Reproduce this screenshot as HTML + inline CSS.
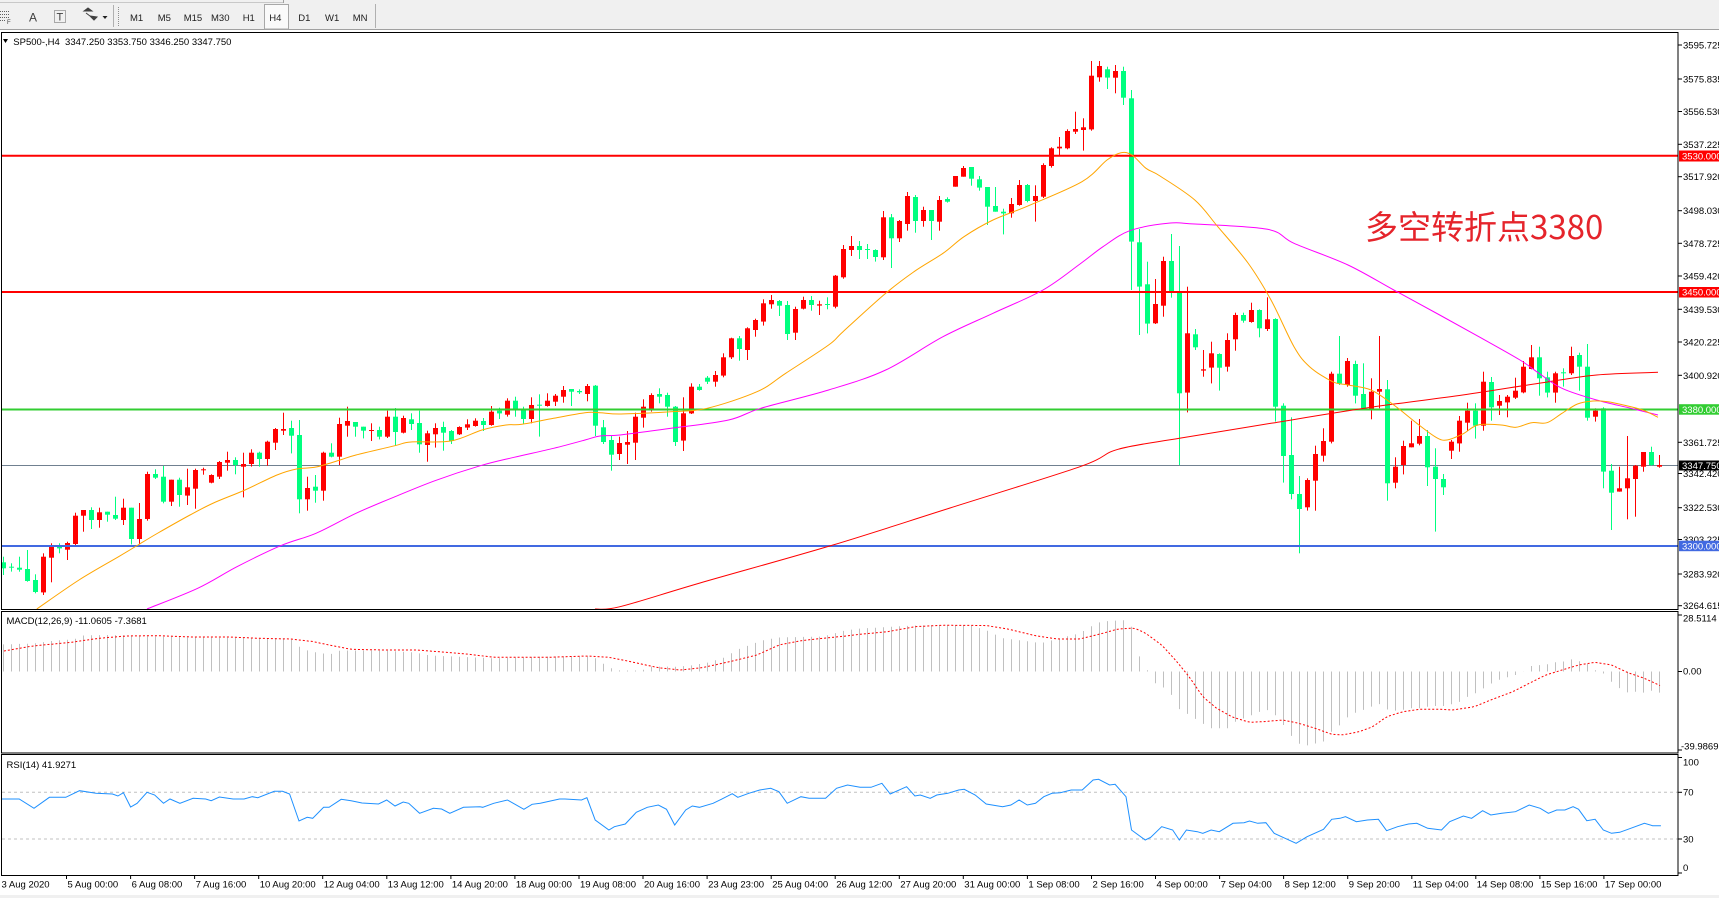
<!DOCTYPE html>
<html><head><meta charset="utf-8">
<style>
html,body{margin:0;padding:0;background:#fff;width:1719px;height:898px;overflow:hidden}
svg{display:block}
text{font-family:"Liberation Sans","Noto Sans CJK SC",sans-serif;font-size:9.5px;fill:#000}
.tb{font-size:9.5px;fill:#202020}
.ax{font-size:9.5px}
.wl{font-size:9.5px;fill:#fff}
</style></head><body>
<svg id="s" xmlns="http://www.w3.org/2000/svg" width="1719" height="898" viewBox="0 0 1719 898">
<defs>
<clipPath id="cm"><rect x="2" y="34" width="1676" height="575"/></clipPath>
<clipPath id="cd"><rect x="2" y="612" width="1676" height="140"/></clipPath>
<clipPath id="cr"><rect x="2" y="755" width="1676" height="120"/></clipPath>
</defs>
<rect x="0" y="0" width="1719" height="898" fill="#fff"/>
<!-- toolbar -->
<rect x="0" y="0" width="1719" height="30" fill="#F0F0F0"/>
<line x1="0" y1="2.5" x2="283" y2="2.5" stroke="#C8C8C8"/>
<line x1="283.5" y1="0" x2="283.5" y2="3" stroke="#A0A0A0"/>
<line x1="0" y1="29.5" x2="1719" y2="29.5" stroke="#A0A0A0"/>
<rect x="0" y="30" width="1719" height="2" fill="#fff"/>
<g stroke="#606060" stroke-dasharray="1,1">
<line x1="0" y1="11.5" x2="10" y2="11.5"/><line x1="0" y1="14.5" x2="10" y2="14.5"/><line x1="0" y1="17.5" x2="10" y2="17.5"/><line x1="0" y1="20.5" x2="6" y2="20.5"/>
</g>
<text x="7" y="24" style="font-size:6px;fill:#404040">F</text>
<text x="29" y="21.5" style="font-size:12px;fill:#404040">A</text>
<rect x="54.5" y="10.5" width="11" height="12" fill="none" stroke="#606060" stroke-dasharray="1,1"/>
<text x="56.5" y="20.5" style="font-size:11px;fill:#404040">T</text>
<path d="M84 11 L88 8 L92 11 Z M86 13 L90 16 M90 16 L94 20 L97 17 Z" fill="#404040" stroke="#404040"/>
<path d="M102.5 16 L107.5 16 L105 19 Z" fill="#202020"/>
<line x1="113.5" y1="5" x2="113.5" y2="27" stroke="#B0B0B0"/>
<line x1="118.5" y1="7" x2="118.5" y2="26" stroke="#909090" stroke-dasharray="1,1"/>
<rect x="264.5" y="4.5" width="24" height="24.5" fill="#FAFAFA" stroke="#A8A8A8"/>
<text class="tb" x="130" y="21">M1</text>
<text class="tb" x="157.7" y="21">M5</text>
<text class="tb" x="183.7" y="21">M15</text>
<text class="tb" x="211" y="21">M30</text>
<text class="tb" x="242.7" y="21">H1</text>
<text class="tb" x="269.3" y="21">H4</text>
<text class="tb" x="298.3" y="21">D1</text>
<text class="tb" x="325" y="21">W1</text>
<text class="tb" x="352.7" y="21">MN</text>
<line x1="375.5" y1="4" x2="375.5" y2="28" stroke="#B0B0B0"/>
<!-- bottom strip -->
<rect x="0" y="895" width="1719" height="3" fill="#F0F0F0"/>

<line x1="2" y1="465.5" x2="1678" y2="465.5" stroke="#708090" stroke-width="1"/>
<g id="dyn"></g>
<g clip-path="url(#cm)">
<line x1="2" y1="155.7" x2="1678" y2="155.7" stroke="#FF0000" stroke-width="2"/>
<line x1="2" y1="292" x2="1678" y2="292" stroke="#FF0000" stroke-width="2"/>
<line x1="2" y1="409.5" x2="1678" y2="409.5" stroke="#32CD32" stroke-width="2"/>
<line x1="2" y1="546" x2="1678" y2="546" stroke="#4169E1" stroke-width="2"/>
</g>
<g id="dyn2"></g>

<!-- frames -->
<g fill="none" stroke="#000" stroke-width="1">
<rect x="1.5" y="32.5" width="1676.5" height="577"/>
<rect x="1.5" y="611.5" width="1676.5" height="141.5"/>
<rect x="1.5" y="754.5" width="1676.5" height="121"/>
</g>

<!-- header -->
<path d="M3 39 L8 39 L5.5 43 Z" fill="#000"/>
<text x="13.3" y="45" style="white-space:pre">SP500-,H4  3347.250 3353.750 3346.250 3347.750</text>
<text x="6.5" y="624">MACD(12,26,9) -11.0605 -7.3681</text>
<text x="6.5" y="768">RSI(14) 41.9271</text>

<text x="1365" y="239" style="font-family:'Noto Sans CJK SC','WenQuanYi Zen Hei',sans-serif;font-size:33px;fill:#E5242B">多空转折点3380</text>

<!-- price axis -->
<g stroke="#000">
<line x1="1678" y1="45" x2="1682" y2="45"/><line x1="1678" y1="79" x2="1682" y2="79"/>
<line x1="1678" y1="111.5" x2="1682" y2="111.5"/><line x1="1678" y1="144.3" x2="1682" y2="144.3"/>
<line x1="1678" y1="176.7" x2="1682" y2="176.7"/><line x1="1678" y1="210.7" x2="1682" y2="210.7"/>
<line x1="1678" y1="243.3" x2="1682" y2="243.3"/><line x1="1678" y1="276" x2="1682" y2="276"/>
<line x1="1678" y1="309.3" x2="1682" y2="309.3"/><line x1="1678" y1="342" x2="1682" y2="342"/>
<line x1="1678" y1="375.3" x2="1682" y2="375.3"/><line x1="1678" y1="442.3" x2="1682" y2="442.3"/>
<line x1="1678" y1="473.5" x2="1682" y2="473.5"/><line x1="1678" y1="507.7" x2="1682" y2="507.7"/>
<line x1="1678" y1="539.5" x2="1682" y2="539.5"/><line x1="1678" y1="574" x2="1682" y2="574"/>
<line x1="1678" y1="605.7" x2="1682" y2="605.7"/>
<line x1="1678" y1="615" x2="1682" y2="615"/><line x1="1678" y1="671.5" x2="1682" y2="671.5"/><line x1="1678" y1="750" x2="1682" y2="750"/>
<line x1="1678" y1="757.5" x2="1682" y2="757.5"/><line x1="1678" y1="792.3" x2="1682" y2="792.3"/><line x1="1678" y1="839" x2="1682" y2="839"/><line x1="1678" y1="873" x2="1682" y2="873"/>
</g>
<g class="ax">
<text x="1683" y="48.5">3595.725</text>
<text x="1683" y="82.5">3575.835</text>
<text x="1683" y="115">3556.530</text>
<text x="1683" y="148">3537.225</text>
<text x="1683" y="180">3517.920</text>
<text x="1683" y="214">3498.030</text>
<text x="1683" y="247">3478.725</text>
<text x="1683" y="279.5">3459.420</text>
<text x="1683" y="313">3439.530</text>
<text x="1683" y="345.5">3420.225</text>
<text x="1683" y="379">3400.920</text>
<text x="1683" y="446">3361.725</text>
<text x="1683" y="477">3342.420</text>
<text x="1683" y="511">3322.530</text>
<text x="1683" y="543">3303.225</text>
<text x="1683" y="577.5">3283.920</text>
<text x="1683" y="609">3264.615</text>
<text x="1683" y="621.5">28.5114</text>
<text x="1683" y="674.5">0.00</text>
<text x="1681" y="749.5">-39.9869</text>
<text x="1683" y="765.5">100</text>
<text x="1683" y="795.5">70</text>
<text x="1683" y="842.5">30</text>
<text x="1683" y="871">0</text>
</g>
<rect x="1679" y="150.5" width="40" height="11" fill="#FF0000"/>
<text class="wl" x="1682" y="159.3">3530.000</text>
<rect x="1679" y="287" width="40" height="10.5" fill="#FF0000"/>
<text class="wl" x="1682" y="295.5">3450.000</text>
<rect x="1679" y="404.2" width="40" height="10.5" fill="#32CD32"/>
<text class="wl" x="1682" y="412.8">3380.000</text>
<rect x="1679" y="460.5" width="40" height="10" fill="#000"/>
<text class="wl" x="1682" y="469">3347.750</text>
<rect x="1679" y="540.7" width="40" height="10.5" fill="#4169E1"/>
<text class="wl" x="1682" y="549.3">3300.000</text>

<g id="dates"></g>
</svg>
<script>
(function(){
function interp(p,x){if(x<=p[0][0])return p[0][1];for(var k=1;k<p.length;k++){if(x<=p[k][0]){var a=p[k-1],b=p[k];return a[1]+(b[1]-a[1])*(x-a[0])/(b[0]-a[0]);}}return p[p.length-1][1];}
var A=[['g',547,565,530,585],['g',560,562,550,575],['g',563,569,530,575],['g',567,603,510,605],['g',600,636,583,640],['r',530,637,520,645],['r',500,533,490,607],['g',500,505,490,520],['r',489,509,485,540],['r',407,492,398,500],['r',390,407,390,455],['g',390,420,382,447],['r',397,420,383,443],['g',395,404,395,425],['g',405,416,350,420],['r',383,420,356,435],['g',383,477,383,493],['r',417,477,369,493],['r',282,417,275,422],['g',282,293,268,297],['g',290,365,258,370],['r',299,365,299,378],['g',299,345,293,380],['r',322,347,266,375],['r',270,326,266,386],['r',268,270,263,284],['r',285,308,283,310],['r',246,290,243,297],['r',240,248,215,272],['g',240,255,232,283],['r',252,260,218,352],['r',218,252,208,260],['g',218,237,215,260],['r',185,237,182,257],['r',147,188,144,210],['r',147,152,98,165],['g',144,167,122,220],['g',165,358,120,400],['r',324,358,290,392],['g',320,332,285,368],['r',218,332,215,362],['g',218,230,190,232],['r',132,230,113,255],['r',123,137,80,170],['g',126,140,126,170],['g',140,152,140,175],['r',150,152,130,183],['g',150,170,140,178],['r',110,170,92,174],['g',110,156,84,198],['r',114,158,107,160],['g',118,132,100,150],['g',129,193,92,218],['r',160,195,152,245],['r',144,163,130,203],['g',141,158,125,212],['g',153,183,150,192],['r',141,163,139,165],['r',133,143,118,150],['r',122,138,115,140],['g',123,135,114,153],['r',95,135,78,137],['g',92,100,83,117],['r',62,104,55,110],['g',62,86,50,110],['g',88,117,80,133],['r',75,117,52,130],['g',74,76,43,170],['r',62,78,40,80],['r',47,65,42,78],['r',30,50,18,68],['g',27,35,27,78],['g',33,37,28,42],['r',18,42,12,64],['g',17,137,15,168]];
var R=[['g',427.3,442,420,444],['g',440,454.7,436,470.7],['r',443,454,436.7,460],['r',442,444.7,431,464]];
var B=[['r',1130,1208,1118,1260],['r',1100,1133,1078,1163],['r',1065,1110,1060,1115],['g',1062,1070,1045,1090],['g',1065,1100,1058,1130],['g',1100,1206,1098,1218],['r',1120,1202,1072,1233],['r',1040,1120,1030,1122],['g',1040,1050,1032,1052],['g',1013,1025,1008,1032],['r',1005,1025,993,1040],['r',952,1007,940,1012],['r',895,952,893,957],['g',895,927,888,962],['r',865,930,862,960],['r',840,870,836,890],['r',790,845,778,857],['r',780,793,765,806],['g',783,797,780,828],['g',795,882,783,900],['r',807,878,800,900],['r',780,806,770,808],['g',780,795,768,812],['r',793,797,782,825],['g',792,794,772,808],['r',707,800,705,805],['r',627,712,615,716],['r',618,630,588,648],['g',618,630,603,657],['g',627,630,612,657],['g',630,651,628,665],['r',532,652,513,660],['g',532,595,522,684],['r',543,595,540,606],['r',468,552,456,572],['g',471,543,465,578],['r',510,543,500,560],['g',510,543,510,600],['r',480,545,468,572],['g',477,485,472,488],['r',408,440,408,440],['r',384,410,378,410],['g',381,416,381,437],['g',418,443,408,452],['g',441,500,441,555],['g',498,515,441,515],['g',515,520,506,583],['r',492,520,474,533],['r',435,495,420,497],['g',435,483,432,487],['r',468,483,436,545],['r',375,470,370,474],['r',325,378,322,383],['r',320,325,291,345],['r',273,325,268,328],['r',267,275,215,282],['r',262,270,235,332],['r',107,268,63,272],['r',78,112,63,125],['g',88,113,80,147],['r',93,113,75,160],['g',93,173,80,195],['g',175,605,150,750],['g',607,740,567,885],['g',733,851,665,880],['r',792,850,717,852]];
var C=[['r',183,317,170,350],['g',183,273,102,293],['g',273,580,138,795],['r',400,578,260,637],['g',403,442,387,450],['r',508,512,450,530],['r',460,503,425,550],['g',462,503,460,572],['r',420,500,400,515],['r',345,418,338,452],['g',345,362,338,368],['r',330,366,308,368],['g',330,385,328,412],['r',358,387,292,393],['g',357,620,355,665],['g',617,768,610,848],['g',765,882,652,898],['g',882,927,828,1060],['r',840,922,835,932],['r',762,842,737,932],['r',723,767,685,785],['r',521,725,515,730],['g',521,550,408,555],['r',483,555,474,560],['g',492,587,482,610],['g',582,625,490,625],['r',575,627,535,658],['r',567,575,408,625],['g',568,850,540,902],['r',800,848,772,865],['r',738,795,722,823],['r',730,742,662,742],['r',708,731,657,736],['g',708,802,690,858],['g',800,837,745,995],['g',837,862,822,885],['r',725,752,720,777],['r',662,730,648,755],['r',632,668,608,693],['g',632,677,610,716],['r',545,677,515,692],['g',546,622,531,662],['r',603,617,585,645],['r',590,607,585,652],['r',572,593,533,597],['r',500,577,483,580],['r',472,507,435,508],['g',472,535,440,587],['g',532,578,515,592],['r',520,578,515,608],['g',517,519,505,560],['r',468,520,440,525],['g',465,500,458,572],['g',500,653,432,662],['r',632,650,625,665],['g',625,815,622,865],['g',812,878,792,990],['r',865,875,800,875],['r',835,865,708,958],['r',797,837,795,950],['r',756,800,756,815],['g',756,795,740,797],['r',795,800,765,803]];
var bars=[];
function add(arr,off){for(var i=0;i<arr.length;i++){var d=arr[i];bars.push([d[0],off+d[1]/3,off+d[2]/3,off+d[3]/3,off+d[4]/3]);}}
add(A,380);
for(var i=0;i<R.length;i++)bars.push(R[i]);
add(B,40);add(C,200);
var GC='#00FF7F',RC='#FF0000';
var c='<g clip-path="url(#cm)">';
for(var i=0;i<bars.length;i++){var b=bars[i],x=3+8*i,col=b[0]=='g'?GC:RC;
 c+='<rect x="'+x+'" y="'+b[3].toFixed(1)+'" width="1" height="'+Math.max(1,b[4]-b[3]).toFixed(1)+'" fill="'+col+'"/>';
 c+='<rect x="'+(x-2)+'" y="'+b[1].toFixed(1)+'" width="5" height="'+Math.max(1,b[2]-b[1]).toFixed(1)+'" fill="'+col+'"/>';}
c+='</g>';
document.getElementById('dyn').innerHTML=c;
function pl(p,col,extra){var s='';for(var i=0;i<p.length;i++)s+=p[i][0].toFixed(1)+','+p[i][1].toFixed(1)+' ';return '<polyline points="'+s+'" fill="none" stroke="'+col+'" stroke-width="1" '+(extra||'')+'/>';}
function smooth(p,col){var d='M'+p[0][0].toFixed(1)+','+p[0][1].toFixed(1);for(var i=0;i<p.length-1;i++){var p0=p[i-1]||p[i],p1=p[i],p2=p[i+1],p3=p[i+2]||p2;var c1x=p1[0]+(p2[0]-p0[0])/6,c1y=p1[1]+(p2[1]-p0[1])/6,c2x=p2[0]-(p3[0]-p1[0])/6,c2y=p2[1]-(p3[1]-p1[1])/6;d+=' C'+c1x.toFixed(1)+','+c1y.toFixed(1)+' '+c2x.toFixed(1)+','+c2y.toFixed(1)+' '+p2[0].toFixed(1)+','+p2[1].toFixed(1);}return '<path d="'+d+'" fill="none" stroke="'+col+'" stroke-width="1"/>';}
var OR=[[36.8,609],[79,580],[118.6,556.7],[138,545],[158,533],[190,515],[213.5,503],[245,490],[277,475],[296.6,469],[316,467],[340,460],[356,455],[395,445.7],[411,442],[451,441],[482,430],[506,425],[522,424.3],[553.6,418.3],[585,412.7],[600,412.7],[621,414],[671,411.7],[707,408.3],[757,391.7],[785.7,373.3],[828.6,345],[843,331.7],[885.7,293.3],[914,271.7],[943,253.3],[964,236.7],[993,220],[1028.6,205.7],[1082,181.7],[1107,160],[1121,152.7],[1132,155],[1146,168.3],[1160,176],[1194.8,200],[1217.8,226.7],[1248,263],[1271,300],[1294,346.7],[1309.6,366.7],[1332.6,381.7],[1348,385],[1371,390],[1393.8,405],[1416.8,423.3],[1436,437.3],[1447,440],[1462.7,434],[1478,425],[1501,425],[1516,427.3],[1531.6,422.7],[1547,422.7],[1562,413.3],[1577.5,404],[1593,401],[1608,401.7],[1623.4,405],[1642.6,410],[1658,417.3]];
var MG=[[147,609],[197.7,588.3],[237,566.7],[280.7,545.7],[316,533.3],[356,513.3],[395,496.7],[435,480.7],[480.4,465.7],[514,457.3],[553.6,448.3],[585,440],[600,436],[620,435],[671,428.3],[728.6,420],[760.7,408.3],[828.6,390],[885.7,370],[943,336.7],[993,313.3],[1043,290],[1080,264],[1103,246.7],[1129.8,230.7],[1168,223.3],[1194.8,224],[1267.5,229.3],[1294,243.3],[1348,265],[1393.8,290],[1439.7,315],[1481.8,338.3],[1520,360],[1539,373.3],[1562,388.3],[1596.6,400],[1631,408.3],[1658,415]];
var RD=[[595,609],[620,606.7],[700,583],[833,545],[950,508],[1080,466.7],[1118,449.3],[1179.5,438.3],[1271,423.3],[1371,407.3],[1462.7,395],[1539,383.3],[1596.6,375],[1658,372.3]];
var d2='<g clip-path="url(#cm)">'+smooth(RD,'#FF0000')+smooth(MG,'#FF00FF')+smooth(OR,'#FFA500')+'</g>';
var H=[[0,13.5],[33,14],[55,15.5],[74,16],[82,18],[110,18.3],[160,17.5],[200,17],[290,16.5],[299,12.5],[310,10],[330,8.5],[340,10.5],[385,10.5],[415,9.5],[430,8],[494,6.6],[550,7.5],[593,7.5],[603,4],[612,1.5],[620,0.5],[642,0.5],[650,2.5],[675,2.4],[691,3],[708,4.5],[724,7],[738,11],[754,14],[762,15.5],[779,17],[823,17.5],[845,20.5],[860,21.5],[914.9,23],[942.3,23.2],[969.7,23.2],[986.2,20.7],[1002.6,16.7],[1041,14.2],[1068.4,17.7],[1079.4,19],[1090.4,22.4],[1101.4,25],[1123.3,25.7],[1131.5,22.4],[1138.7,8.25],[1154.6,-5.6],[1162.8,-7.7],[1171,-11.2],[1178.2,-18.4],[1186.9,-21],[1194.6,-23.4],[1202.8,-26],[1211.1,-28.4],[1227.5,-28.4],[1235.8,-25],[1244,-23.4],[1252.2,-21.75],[1260.4,-20],[1268.7,-19.2],[1275.3,-21.75],[1282.4,-26],[1290.6,-31.75],[1298.8,-36],[1307.1,-37],[1315.3,-36],[1323.5,-35],[1331.7,-30],[1340,-26.75],[1348.2,-22.6],[1356.4,-20.4],[1363.6,-19.2],[1371.3,-17.6],[1378.4,-15.9],[1386.6,-18.9],[1394.8,-19.6],[1403,-19.2],[1411.3,-18.4],[1419.5,-18.4],[1427.7,-17.6],[1436,-17.25],[1444.2,-17.25],[1452.4,-16.25],[1460.7,-15],[1467.8,-12.6],[1475.5,-10.9],[1483.7,-8.4],[1491.9,-5.9],[1499,-4.25],[1507.3,-2.9],[1515.5,-1.75],[1523.7,0],[1532,2.9],[1540.2,3.25],[1547.3,3.6],[1555.6,4.6],[1563.8,5],[1572,6.1],[1580.2,5],[1587.9,3.8],[1595,0.75],[1603.3,-0.9],[1611.5,-5.1],[1619.7,-8.4],[1628,-10.6],[1636.2,-10.1],[1644.4,-10.6],[1651.5,-9.6],[1659.8,-10.6]];
var SG=[[0,9.9],[32.9,12.75],[71.3,14.6],[98.7,16.6],[126.2,17.75],[159,17.9],[192,17.25],[230.4,17.25],[257.8,16.6],[290.7,16.25],[312.7,15],[329.1,13.25],[351,11.1],[384,10.75],[417,10.75],[438.8,9.9],[466.3,8.75],[493.7,7.1],[548.5,7.1],[587,7.75],[608.9,7.1],[630.8,4.9],[658.3,1.9],[680.2,0.75],[702.1,1.9],[729.6,4.9],[757,8.25],[778.9,13.25],[800.9,15.4],[822.8,16.6],[839.3,17.4],[860,18.6],[887.4,19.9],[914.9,22.4],[942.3,23.1],[986.2,23],[1008.1,21.2],[1035.5,17.9],[1057.5,16.25],[1079.4,16.25],[1101.4,18.9],[1117.8,21.25],[1134.3,21.75],[1145.2,19.25],[1161.7,13.25],[1175.4,5.75],[1189.1,-2.6],[1202.8,-12.6],[1216.6,-18.4],[1233,-22.9],[1249.5,-25.4],[1265.9,-25],[1282.4,-24.25],[1298.8,-25.9],[1315.3,-28.4],[1331.7,-31.4],[1342.7,-31.75],[1359.2,-30.1],[1372.9,-27.6],[1386.6,-22.6],[1403,-20.1],[1419.5,-18.9],[1441.5,-18.9],[1452.4,-19.25],[1474.4,-17.6],[1490.8,-14.25],[1512.8,-10.1],[1529.2,-5.9],[1545.7,-1.75],[1562.1,0.75],[1578.6,3.25],[1595,4.6],[1611.5,3.25],[1628,-0.6],[1644.4,-3.4],[1660.9,-7.25]];
var Z=671.5,K=2.0;
d2+='<g clip-path="url(#cd)">';
for(var i=0;i<208;i++){var x=3+8*i+0.5,v=interp(H,x);var y=Z-v*K;d2+='<line x1="'+x+'" y1="'+Z+'" x2="'+x+'" y2="'+y.toFixed(1)+'" stroke="#C0C0C0" stroke-width="1"/>';}
var sp=[];for(var x=0;x<=1660;x+=4){sp.push([x,Z-interp(SG,x)*K]);}
d2+=pl(sp,'#FF0000','stroke-dasharray="2,2"');
d2+='</g>';
var R10=[[0,597],[35,597],[62,625],[90,592],[120,592],[145,572],[175,580],[205,582],[215,588],[225,578],[238,621],[250,610],[268,577],[282,585],[298,610],[310,597],[328,610],[352,595],[375,597],[385,602],[400,591],[425,597],[445,597],[460,590],[470,593],[500,574],[515,574],[528,582],[545,663],[560,652],[570,655],[590,622],[600,622],[622,598],[640,602],[660,609],[690,612],[705,600],[720,618],[735,606],[745,610],[765,640],[790,625],[805,627],[820,640],[845,622],[875,620],[880,622],[900,610],[925,600],[955,628],[970,613],[985,610],[1020,597],[1030,597],[1060,600],[1070,593],[1085,660],[1110,690],[1120,680],[1140,672],[1160,637],[1180,622],[1200,615],[1215,628],[1230,675],[1250,630],[1262,618],[1275,622],[1300,610],[1315,598],[1335,581],[1345,592],[1365,580],[1385,570],[1405,565],[1420,575],[1435,610],[1460,590],[1475,595],[1490,595],[1505,595],[1525,565],[1545,555],[1568,562]];
var R11=[[20,562],[40,550],[55,582],[85,560],[100,588],[110,585],[128,595],[140,585],[160,580],[180,570],[190,568],[210,585],[230,612],[260,620],[275,615],[290,600],[305,615],[320,610],[335,590],[350,580],[365,578],[385,570],[405,570],[425,540],[435,538],[455,555],[465,553],[485,590],[495,690],[520,720],[530,712],[550,680],[570,690],[582,720],[595,690],[615,695],[625,700],[640,690],[655,695],[680,670],[700,668],[710,663],[725,670],[740,668],[755,700],[775,715],[795,730],[815,710],[845,688],[860,658],[875,655],[885,650],[905,665],[925,660],[945,658],[960,692],[980,680],[1000,672],[1015,670],[1035,685],[1060,690],[1075,665],[1100,648],[1115,655],[1135,632],[1150,645],[1170,640],[1195,635],[1220,615],[1240,625],[1255,640],[1270,630],[1285,630],[1300,620],[1310,628],[1325,662],[1340,658],[1355,690],[1370,700],[1385,697],[1400,688],[1430,670],[1445,677],[1460,677]];
var rp=[];
for(var i=0;i<R10.length;i++)rp.push([R10[i][0]/1.823,600+R10[i][1]/3]);
for(var i=0;i<R11.length;i++)rp.push([860+R11[i][0]/1.823,600+R11[i][1]/3]);
d2+='<g clip-path="url(#cr)">';
d2+='<line x1="2" y1="792.3" x2="1678" y2="792.3" stroke="#C0C0C0" stroke-dasharray="3,3"/>';
d2+='<line x1="2" y1="839" x2="1678" y2="839" stroke="#C0C0C0" stroke-dasharray="3,3"/>';
d2+=pl(rp,'#1E90FF');
d2+='</g>';
document.getElementById('dyn2').innerHTML=d2;
var L=['5 Aug 00:00','6 Aug 08:00','7 Aug 16:00','10 Aug 20:00','12 Aug 04:00','13 Aug 12:00','14 Aug 20:00','18 Aug 00:00','19 Aug 08:00','20 Aug 16:00','23 Aug 23:00','25 Aug 04:00','26 Aug 12:00','27 Aug 20:00','31 Aug 00:00','1 Sep 08:00','2 Sep 16:00','4 Sep 00:00','7 Sep 04:00','8 Sep 12:00','9 Sep 20:00','11 Sep 04:00','14 Sep 08:00','15 Sep 16:00','17 Sep 00:00'];
var dt='<text x="1.5" y="887.5">3 Aug 2020</text>';
for(var k=0;k<L.length;k++){var x=66+64.06*k;dt+='<line x1="'+(x+0.5).toFixed(1)+'" y1="875" x2="'+(x+0.5).toFixed(1)+'" y2="879" stroke="#000"/>';dt+='<text x="'+(x+1.5).toFixed(1)+'" y="887.5">'+L[k]+'</text>';}
document.getElementById('dates').innerHTML=dt;
})();
</script>
</body></html>
